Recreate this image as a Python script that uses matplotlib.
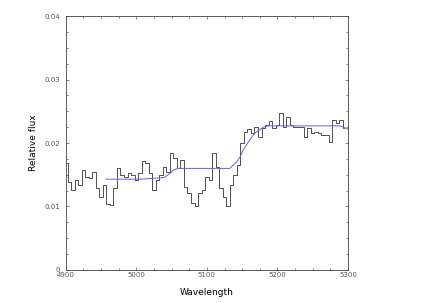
import numpy as np
import matplotlib
matplotlib.use('Agg')
import matplotlib.pyplot as plt
from matplotlib.ticker import MultipleLocator

# observed spectrum, 5 A bins starting at 4900
wave_start = 4900
bin_width = 5
flux = [0.0169, 0.0138, 0.0126, 0.0142, 0.0134, 0.0157, 0.0147, 0.0145, 0.0155, 0.0129,
        0.0115, 0.0134, 0.0104, 0.0102, 0.0129, 0.0160, 0.0150, 0.0147, 0.0152, 0.0150,
        0.0141, 0.0152, 0.0171, 0.0168, 0.0152, 0.0126, 0.0141, 0.0150, 0.0163, 0.0155,
        0.0184, 0.0176, 0.0160, 0.0173, 0.0130, 0.0122, 0.0105, 0.0100, 0.0121, 0.0126,
        0.0147, 0.0141, 0.0184, 0.0163, 0.0129, 0.0115, 0.0100, 0.0134, 0.0150, 0.0165,
        0.0200, 0.0218, 0.0222, 0.0216, 0.0226, 0.0210, 0.0223, 0.0228, 0.0234, 0.0223,
        0.0228, 0.0247, 0.0226, 0.0241, 0.0229, 0.0226, 0.0226, 0.0226, 0.0210, 0.0223,
        0.0215, 0.0217, 0.0215, 0.0213, 0.0213, 0.0202, 0.0236, 0.0231, 0.0236, 0.0223]

# model fit (blue)
model_wave = [4956.7, 5005, 5033, 5040, 5047.5, 5052, 5059, 5132.6, 5137, 5142, 5147,
              5151.5, 5156, 5161, 5166, 5170.5, 5175, 5180, 5186.5, 5288.7, 5300]
model_flux = [0.0143, 0.0143, 0.0145, 0.0146, 0.0152, 0.0157, 0.0160, 0.0160, 0.0165, 0.0170, 0.0178,
              0.0189, 0.0197, 0.0205, 0.0213, 0.0218, 0.0221, 0.0225, 0.0227, 0.0227, 0.0222]

yticks = [0, 0.01, 0.02, 0.03, 0.04]
ytick_labels = ['0', '0.01', '0.02', '0.03', '0.04']

wave = wave_start + bin_width * np.arange(len(flux))

fig = plt.figure(figsize=(4.36, 3.03), dpi=100)
ax = fig.add_axes([0.151, 0.109, 0.647, 0.838])

ax.plot(wave, flux, drawstyle='steps-mid', color='#333333', linewidth=0.6)
ax.plot(model_wave, model_flux, color='#6060f0', linewidth=0.7)

ax.set_xlim(4900, 5300)
ax.set_ylim(0, 0.04)
ax.xaxis.set_major_locator(MultipleLocator(100))
ax.xaxis.set_minor_locator(MultipleLocator(25))
ax.yaxis.set_minor_locator(MultipleLocator(0.0025))
ax.set_yticks(yticks)
ax.set_yticklabels(ytick_labels)

ax.tick_params(which='both', direction='in', top=True, right=True,
               color='#555555', width=0.5, labelsize=5, labelcolor='#555555')
ax.tick_params(which='major', length=2.5)
ax.tick_params(which='minor', length=1.5)
ax.tick_params(axis='x', pad=1.5)
ax.tick_params(axis='y', pad=4)
for s in ax.spines.values():
    s.set_linewidth(0.6)
    s.set_color('#444444')

ax.set_xlabel('Wavelength', fontsize=6.5, labelpad=7)
ax.set_ylabel('Relative flux', fontsize=6.5, labelpad=5)

fig.savefig('out.png', dpi=100)
